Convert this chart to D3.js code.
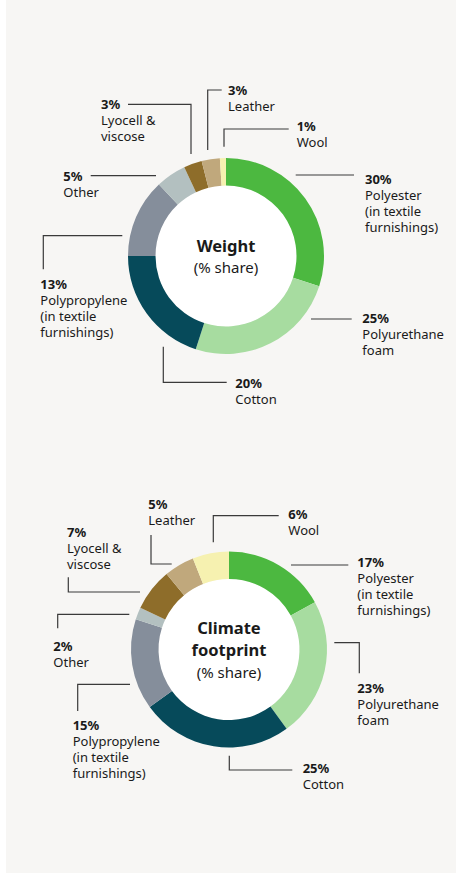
<!DOCTYPE html>
<html><head><meta charset="utf-8">
<script src="https://cdn.jsdelivr.net/npm/d3@7"></script>
<style>
html,body{margin:0;padding:0;background:#fff;}
svg{display:block;font-family:"Noto Sans","Open Sans",sans-serif;}
</style></head>
<body><svg id="c" width="457" height="874"></svg>
<script>
// ---- data ----
const categories = ["Polyester", "Polyurethane", "Cotton", "Polypropylene", "Other", "Lyocell", "Leather", "Wool"];
const categoryLabels = [
  ["Polyester", "(in textile", "furnishings)"],
  ["Polyurethane", "foam"],
  ["Cotton"],
  ["Polypropylene", "(in textile", "furnishings)"],
  ["Other"],
  ["Lyocell &", "viscose"],
  ["Leather"],
  ["Wool"]
];
const weightShare = [30, 25, 20, 13, 5, 3, 3, 1];
const climateShare = [17, 23, 25, 15, 2, 7, 5, 6];
const colors = ["#4cb840", "#a7dca0", "#064a5a", "#858e9b", "#b3c0c0", "#8e6d2a", "#c0a87c", "#f6f1b0"];

// ---- layout ----
const charts = [
  {
    values: weightShare, title: ["Weight"], cx: 226, cy: 256, titleY: [251.5], subY: 272.5,
    labels: [[365,184],[362.3,323],[235.3,388],[40.3,288.5],[63.3,181],[101,108.5],[228,95],[296.7,131]],
    leaders: [
      [[295.7,175],[354,175]],
      [[311,319],[351.7,319]],
      [[163.3,346.7],[163.3,382.3],[226.7,382.3]],
      [[122.3,235.7],[43.3,235.7],[43.3,269.3]],
      [[156,175.7],[90.7,175.7]],
      [[191,154],[191,104.3],[128,104.3]],
      [[207.7,150],[207.7,90],[221.7,90]],
      [[224,146.7],[224,129],[288.7,129]]
    ]
  },
  {
    values: climateShare, title: ["Climate", "footprint"], cx: 229, cy: 649.5, titleY: [634, 655.5], subY: 677.5,
    labels: [[357.3,566.5],[357.3,693],[302.7,773],[72.7,729.5],[53.3,651],[67,537],[148.3,508.5],[288.3,519]],
    leaders: [
      [[291,565],[348.3,565]],
      [[334.3,642.7],[359.3,642.7],[359.3,673.3]],
      [[229.3,755.7],[229.3,770],[292.3,770]],
      [[130,684.3],[77.7,684.3],[77.7,711]],
      [[129.3,614.3],[57.7,614.3],[57.7,628.3]],
      [[140,592],[68.3,592],[68.3,577.3]],
      [[171.7,564],[151,564],[151,535]],
      [[213.3,542.3],[213.3,515.7],[278.7,515.7]]
    ]
  }
];
const outerR = 98, innerR = 70.5, lineH = 16;

const svg = d3.select("#c");
svg.append("rect").attr("x", 6).attr("y", 0).attr("width", 450).attr("height", 873).attr("fill", "#f7f6f4");

const color = d3.scaleOrdinal().domain(categories).range(colors);
const pie = d3.pie().sort(null).value(d => d.v);
const arc = d3.arc().innerRadius(innerR).outerRadius(outerR);
const line = d3.line();

charts.forEach(ch => {
  const data = categories.map((c, i) => ({c, v: ch.values[i], i}));
  const g = svg.append("g").attr("transform", `translate(${ch.cx},${ch.cy})`);
  g.append("circle").attr("r", innerR).attr("fill", "#fff");
  g.selectAll("path.slice").data(pie(data)).join("path")
    .attr("class", "slice").attr("d", arc).attr("fill", d => color(d.data.c));

  ch.title.forEach((t, k) => {
    svg.append("text").attr("x", ch.cx).attr("y", ch.titleY[k]).attr("text-anchor", "middle")
      .attr("font-size", 16.5).attr("font-weight", 700).attr("fill", "#1a1a1a").text(t);
  });
  svg.append("text").attr("x", ch.cx).attr("y", ch.subY).attr("text-anchor", "middle")
    .attr("font-size", 15).attr("fill", "#1a1a1a").text("(% share)");

  svg.append("g").selectAll("path").data(ch.leaders).join("path")
    .attr("d", d => line(d)).attr("fill", "none").attr("stroke", "#3a3a3a").attr("stroke-width", 1.2);

  data.forEach((d, i) => {
    const [x, y] = ch.labels[i];
    const t = svg.append("text").attr("x", x).attr("y", y).attr("font-size", 13).attr("fill", "#1a1a1a");
    t.append("tspan").attr("x", x).attr("font-weight", 700).text(d.v + "%");
    categoryLabels[i].forEach(s => t.append("tspan").attr("x", x).attr("dy", lineH).text(s));
  });
});
</script></body></html>
